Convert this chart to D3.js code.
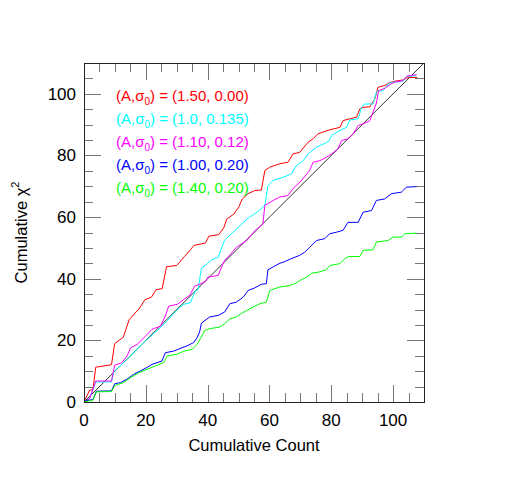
<!DOCTYPE html>
<html>
<head>
<meta charset="utf-8">
<script src="https://cdn.jsdelivr.net/npm/d3@7"></script>
<style>
	body { margin: 0; background: #fff; }
	text { font-family: "Liberation Sans", Arial, Helvetica, sans-serif; }
</style>
</head>
<body>
<div id="chart"></div>
<script>
// cumulative count / cumulative chi^2, one pair of arrays per model
const redCount   = [0, 1.8, 2.9, 3.8, 8.9, 9.9, 12.7, 14.6, 16.1, 17.8, 19.7, 21.8, 23.3, 25.3, 26.7, 30, 32.5, 34.5, 35.6, 39.3, 40.4, 43.6, 45.2, 46.2, 48.5, 50.2, 51.2, 53.1, 55.2, 57.4, 58.5, 60.1, 63.3, 66, 67.6, 69.8, 72.5, 74.1, 75.7, 78.4, 80.6, 82.8, 83.8, 86, 88.2, 89.2, 90.3, 92.5, 93, 94.1, 95.1, 97.3, 99, 100.6, 103.2, 104.9, 107.8];
const redChi2    = [0, 3.8, 4, 11.3, 12.1, 18.9, 21, 26.7, 28.4, 30.2, 33.2, 34, 36.4, 36.8, 43.9, 44.3, 47.2, 49.5, 50.8, 51.6, 53.8, 54.3, 56.5, 59.4, 61, 63.5, 65.9, 67.6, 68.6, 68.8, 75.1, 76.2, 77.3, 77.8, 80.5, 81, 84.3, 85.4, 87, 88, 88.6, 89.1, 91.3, 91.9, 92.4, 95.1, 95.6, 95.8, 96.7, 98.3, 102.1, 102.7, 103.7, 104.1, 104.5, 105.3, 105.3];

const cyanCount  = [0, 1.8, 3.8, 8.9, 9.6, 13.9, 19.3, 24.7, 27, 31, 32.3, 34.4, 36, 36.9, 38, 39.5, 41, 43.5, 44.5, 45.5, 47, 49.2, 51.8, 53.6, 56.3, 58.5, 59.5, 61.2, 64.4, 67.1, 68.7, 70.9, 72.5, 75.2, 77.9, 79.2, 80.1, 82.8, 84.9, 86, 88.7, 89.8, 90.8, 93.5, 94.6, 95.1, 96.8, 98.4, 99.5, 103.2, 104.3, 107.6];
const cyanChi2   = [0, 1.1, 6.5, 6.5, 9.8, 13.8, 19.3, 24.1, 26.5, 30.8, 31.7, 32.2, 36, 36.4, 43.5, 44.5, 46, 47, 50, 52.5, 54, 56, 58.5, 60, 61.8, 63.8, 70.2, 71.9, 72.9, 74, 76.7, 78.3, 80.5, 82.7, 83.9, 84.6, 86.5, 88.1, 89.1, 91.5, 91.9, 95.6, 96.7, 96.7, 100.5, 101, 101, 103.2, 103.7, 104.1, 105.6, 105.9];

const magCount   = [0, 1.8, 3.8, 8.9, 9.9, 12.3, 13.9, 15.1, 17.2, 18.8, 20.4, 22, 24.7, 26.3, 27.4, 30.2, 32.3, 34.2, 35.8, 39.1, 40.1, 43.4, 44.5, 45.5, 46.6, 49.3, 52.6, 55.2, 57.9, 58.5, 61.2, 63.3, 66, 67.6, 70.4, 73, 74.1, 76.3, 78.4, 80.1, 82.2, 83.3, 85.4, 87.1, 88.7, 90.3, 92.5, 93.5, 94.6, 95.3, 97.3, 99.3, 100.6, 103.2, 104.6, 107.6];
const magChi2    = [0, 1.1, 6.8, 6.8, 11.9, 12.8, 14.9, 17.6, 18.7, 20.3, 21.9, 23.6, 24.6, 27.9, 31.1, 31.7, 33.3, 34.6, 37.6, 38.9, 40.5, 41.1, 43.8, 46, 47, 50.2, 52.4, 55.5, 57.8, 63.8, 65.4, 66.5, 67, 69.2, 71.9, 75.1, 77.8, 78.3, 79.4, 80.5, 82.1, 84.8, 85.4, 87, 89.7, 90.2, 91.3, 94, 97, 101, 101.8, 103.2, 103.8, 104.3, 105.8, 106.2];

const blueCount  = [0, 1, 2.9, 4, 8.9, 9.9, 11.8, 13.9, 16.1, 18.3, 20.4, 22, 25.2, 26.3, 29, 31.7, 33.3, 35.5, 36.6, 37.4, 38, 40.7, 43.4, 45.5, 47.2, 49.3, 51.5, 53.1, 55.2, 57.4, 59, 59.5, 63.1, 65, 67, 69.8, 71.4, 73, 75.2, 77.9, 79.5, 81.7, 83.8, 85.4, 88.7, 90.3, 93, 94.6, 97.3, 99.5, 102.7, 104.3, 107.6];
const blueChi2   = [0, 0.5, 0.8, 3.5, 3.6, 5.9, 6.3, 7.4, 9, 10.1, 11.2, 12.2, 13.3, 16, 16.5, 17.6, 18.2, 19.3, 20.9, 22.7, 25.6, 27.6, 28.1, 29.2, 31.9, 32.4, 34, 36.2, 37, 38.2, 38.4, 42.9, 44.9, 45.6, 46.5, 47.6, 48.6, 50.2, 52.4, 53, 54.6, 55.1, 55.7, 58.3, 58.3, 61.6, 62.1, 65.4, 65.9, 67.6, 68.1, 69.7, 69.9];

const greenCount = [0, 1.5, 2.9, 4, 8.9, 9.9, 12.8, 15, 17.7, 20.4, 23.1, 25.8, 26.9, 30.1, 32.3, 35, 36.6, 37.6, 39.1, 40.7, 43.9, 45.5, 47.2, 49.3, 50.9, 52.6, 54.7, 56.9, 59, 60.1, 63.3, 66.6, 68.2, 69.8, 72, 73.6, 75.7, 78.4, 79.5, 82.8, 84.4, 85.5, 89.2, 90.3, 93.5, 94.6, 98.4, 100, 102.7, 103.8, 107.6];
const greenChi2  = [0, 0.3, 0.6, 3.3, 3.4, 5.3, 6.3, 7.9, 9.5, 10.6, 11.7, 12.8, 14.9, 15.5, 16.5, 17.1, 18.7, 20.5, 23.2, 23.8, 24.3, 25.4, 27, 27.6, 28.7, 29.7, 30.8, 31.9, 32.4, 36.2, 37.3, 37.8, 38.4, 39.4, 40.5, 41.8, 42.1, 42.9, 44.3, 44.9, 46.5, 47.2, 47.2, 49.2, 49.4, 51.9, 52.4, 53.5, 53.5, 54.6, 54.8];

const modelA      = ['1.50', '1.0', '1.10', '1.00', '1.40'];
const modelSigma  = ['0.00', '0.135', '0.12', '0.20', '0.20'];
const modelColors = ['#ff0000', '#00ffff', '#ff00ff', '#0000ff', '#00ff00'];

const axisMax    = 110;
const majorTicks = d3.range(20, axisMax, 20);
const minorTicks = d3.range(5, axisMax, 5);

let width  = 518,
	height = 487,
	margin = {top: 63, right: 94, bottom: 85, left: 84};

let series = [
	{count: redCount,   chi2: redChi2},
	{count: cyanCount,  chi2: cyanChi2},
	{count: magCount,   chi2: magChi2},
	{count: blueCount,  chi2: blueChi2},
	{count: greenCount, chi2: greenChi2}
].map((s, i) => ({color: modelColors[i], A: modelA[i], sigma: modelSigma[i],
	points: s.count.map((c, j) => [c, s.chi2[j]])}));

let svg = d3.select('#chart').append('svg')
	.attr('width', width)
	.attr('height', height);

let x = d3.scaleLinear().domain([0, axisMax]).range([margin.left, width - margin.right]);
let y = d3.scaleLinear().domain([0, axisMax]).range([height - margin.bottom, margin.top]);

// inward ticks on all four sides, major then minor
function addTicks(axisFn, scale, tx, ty, values, size) {
	let g = svg.append('g')
		.attr('transform', `translate(${tx},${ty})`)
		.call(axisFn(scale).tickValues(values).tickSize(-size).tickFormat(''));
	g.select('.domain').remove();
	g.selectAll('line').attr('stroke', '#777').attr('shape-rendering', 'crispEdges');
}
let x0 = x(0), x1 = x(axisMax), y0 = y(0), y1 = y(axisMax);
[[majorTicks, 17], [minorTicks, 9]].forEach(([vals, size]) => {
	addTicks(d3.axisBottom, x, 0, y0, vals, size);
	addTicks(d3.axisTop,    x, 0, y1, vals, size);
	addTicks(d3.axisLeft,   y, x0, 0, vals, size);
	addTicks(d3.axisRight,  y, x1, 0, vals, size);
});

// tick labels
svg.append('g').selectAll('text')
	.data(d3.range(0, axisMax, 20)).enter().append('text')
	.attr('x', d => x(d))
	.attr('y', y0 + 24)
	.attr('text-anchor', 'middle')
	.style('font-size', '17px')
	.text(d => d);
svg.append('g').selectAll('text')
	.data(d3.range(0, axisMax, 20)).enter().append('text')
	.attr('x', x0 - 8)
	.attr('y', d => y(d) + 6)
	.attr('text-anchor', 'end')
	.style('font-size', '17px')
	.text(d => d);

// axis titles
svg.append('text')
	.attr('x', (x0 + x1) / 2)
	.attr('y', y0 + 49)
	.attr('text-anchor', 'middle')
	.style('font-size', '16.5px')
	.text('Cumulative Count');
let yTitle = svg.append('text')
	.attr('transform', `translate(27,${(y0 + y1) / 2}) rotate(-90)`)
	.attr('text-anchor', 'middle')
	.style('font-size', '16.5px');
yTitle.append('tspan').text('Cumulative χ');
yTitle.append('tspan').attr('dy', -8).style('font-size', '11px').text('2');

// clip the curves to the frame
svg.append('clipPath').attr('id', 'plot-clip')
	.append('rect')
	.attr('x', x0).attr('y', y1)
	.attr('width', x1 - x0).attr('height', y0 - y1);

let line = d3.line().x(d => x(d[0])).y(d => y(d[1]));
let plot = svg.append('g').attr('clip-path', 'url(#plot-clip)');

// one-to-one reference line
plot.append('path')
	.attr('d', line([[0, 0], [axisMax, axisMax]]))
	.attr('fill', 'none')
	.attr('stroke', '#000')
	.attr('stroke-width', 0.8);

plot.selectAll('path.model')
	.data(series).enter().append('path')
	.attr('class', 'model')
	.attr('d', d => line(d.points))
	.attr('fill', 'none')
	.attr('stroke', d => d.color)
	.attr('stroke-width', 1);

// frame
svg.append('rect')
	.attr('x', x0 + 0.5).attr('y', y1 + 0.5)
	.attr('width', x1 - x0).attr('height', y0 - y1)
	.attr('fill', 'none')
	.attr('stroke', '#222')
	.attr('stroke-width', 1);

// legend
let legend = svg.append('g').selectAll('text')
	.data(series).enter().append('text')
	.attr('x', x0 + 32)
	.attr('y', (d, i) => y1 + 38 + i * 23)
	.attr('fill', d => d.color)
	.style('font-size', '15px');
legend.append('tspan').text('(A,σ');
legend.append('tspan').attr('dy', 4).style('font-size', '10px').text('0');
legend.append('tspan').attr('dy', -4).text(d => `) = (${d.A}, ${d.sigma})`);
</script>
</body>
</html>
